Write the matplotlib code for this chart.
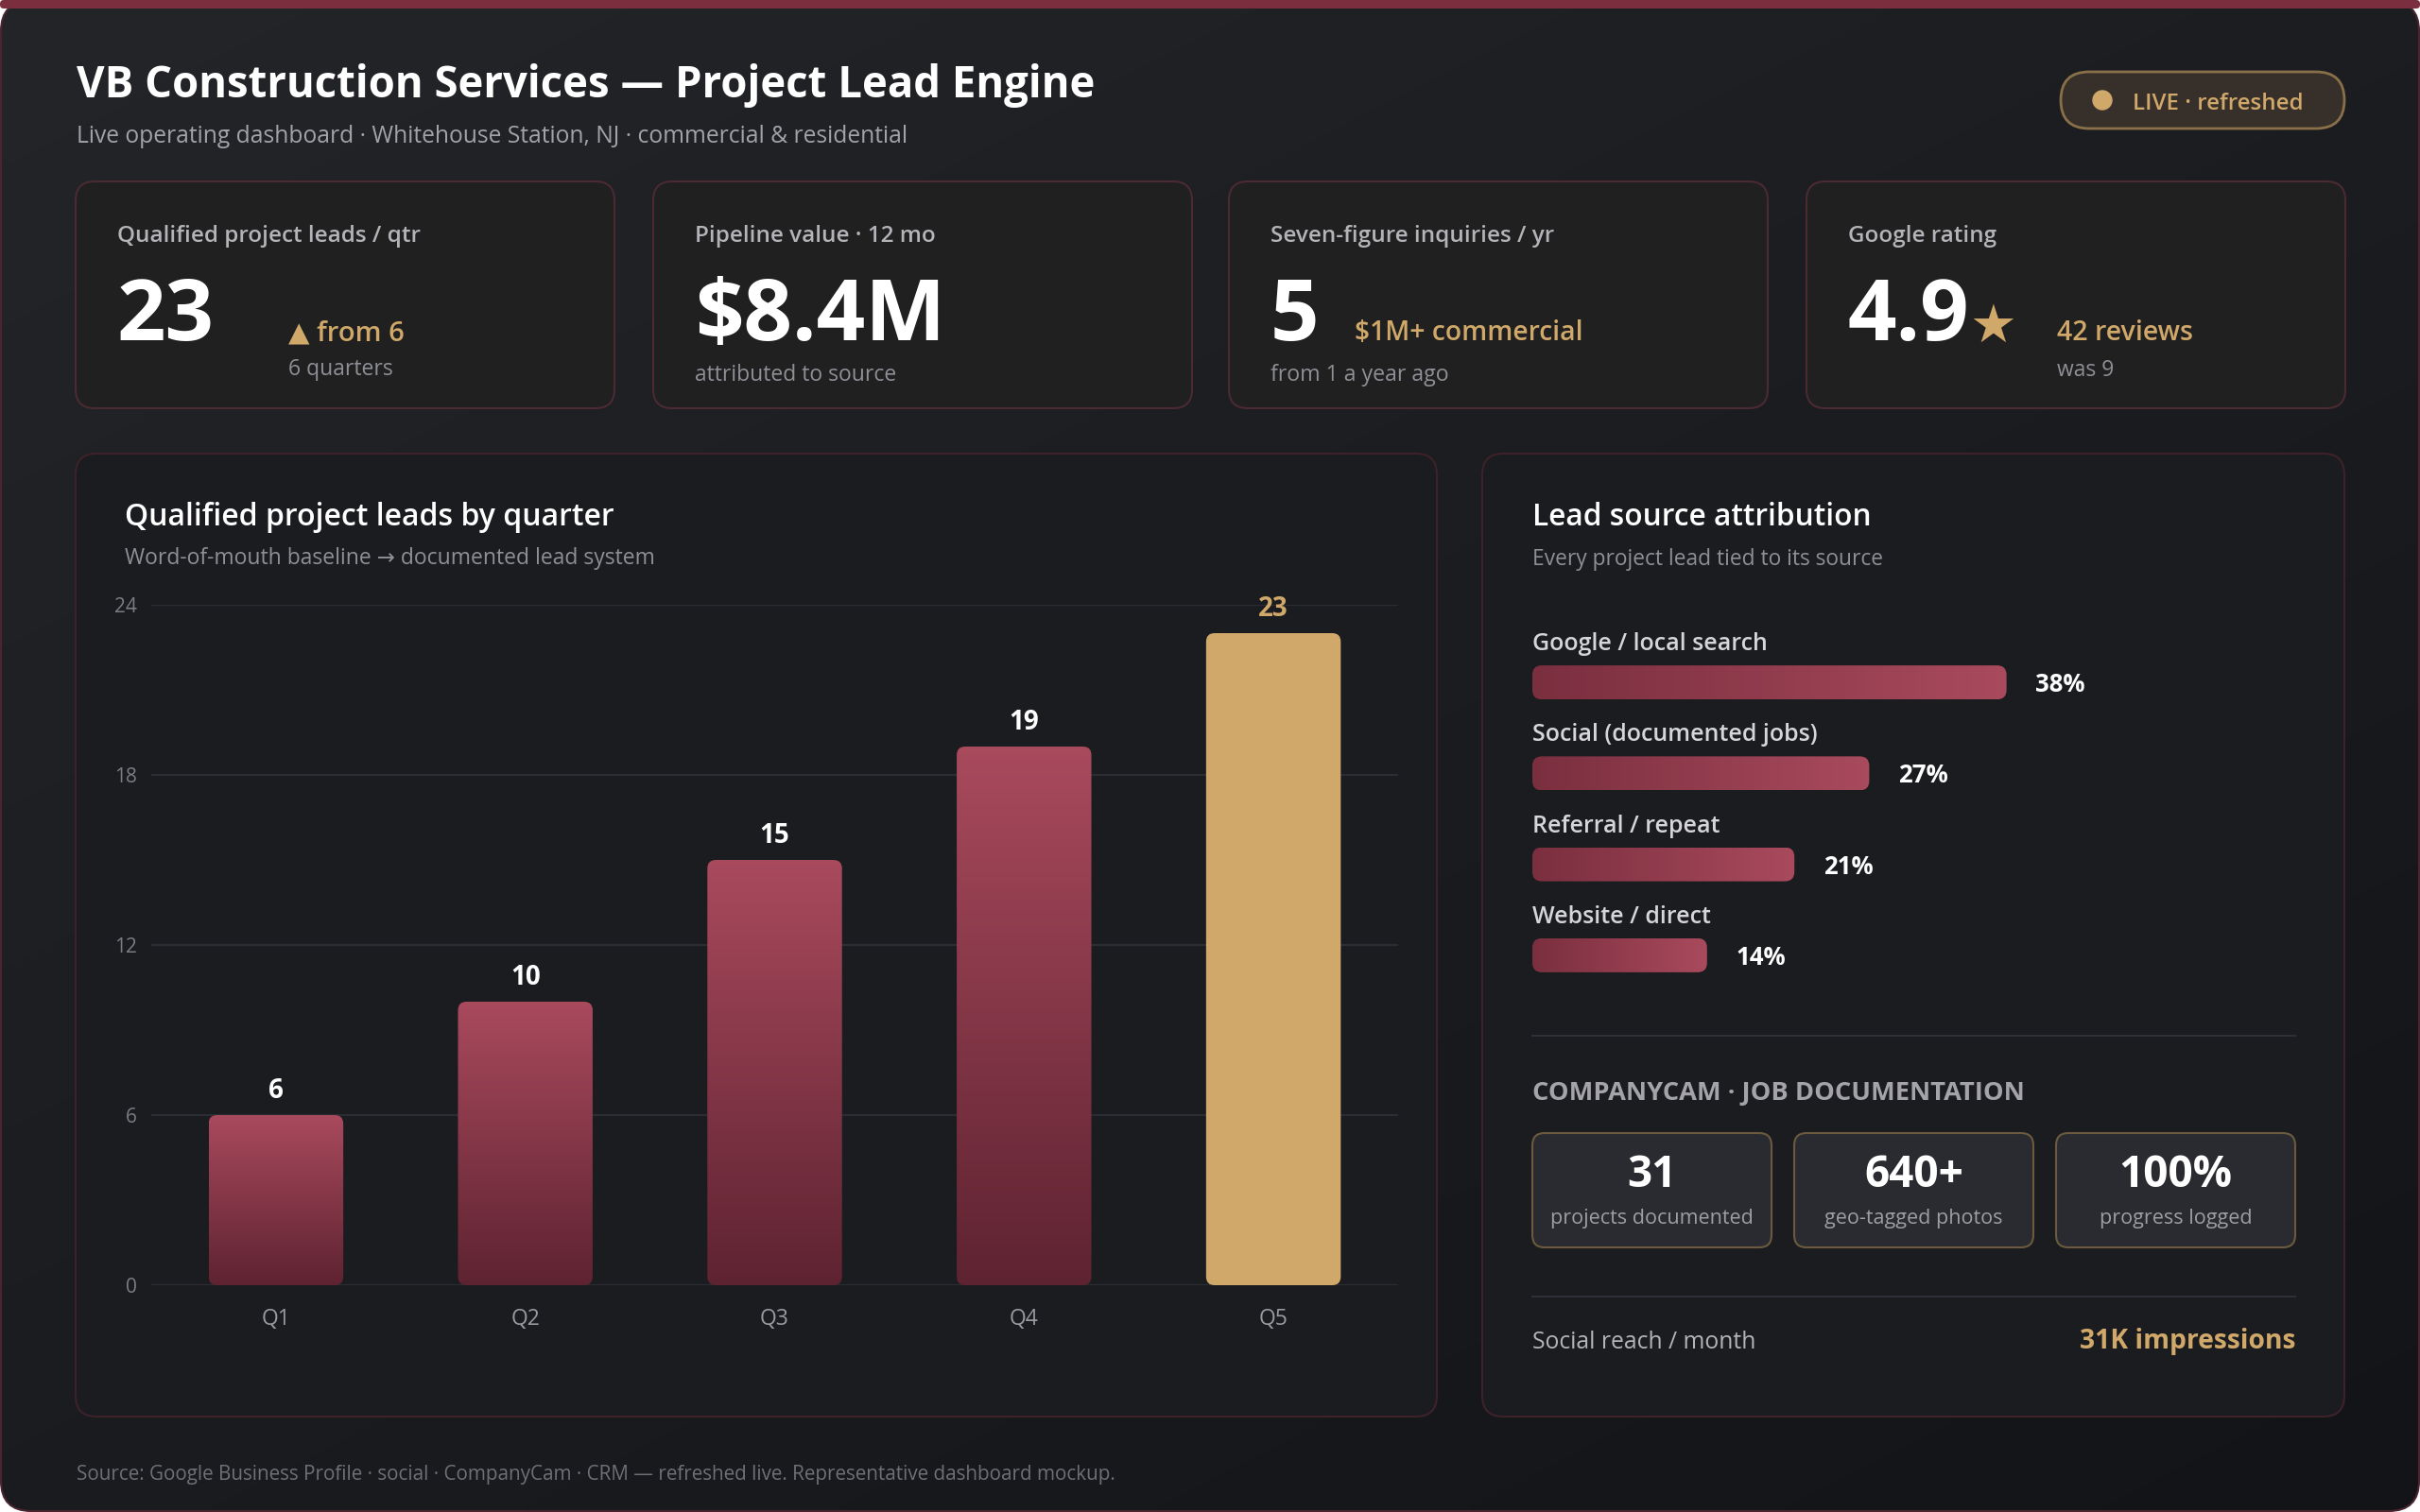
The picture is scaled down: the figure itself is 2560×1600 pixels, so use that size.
import numpy as np
import matplotlib
matplotlib.use('Agg')
import matplotlib.pyplot as plt
from matplotlib.patches import FancyBboxPatch, Circle
from matplotlib.colors import to_rgb

FONT = ['Open Sans', 'DejaVu Sans']
plt.rcParams['font.family'] = FONT

W, H = 2560, 1600

# ---------------- data ----------------
quarters = ['Q1', 'Q2', 'Q3', 'Q4', 'Q5']
leads = [6, 10, 15, 19, 23]
y_ticks = [0, 6, 12, 18, 24]

sources = ['Google / local search', 'Social (documented jobs)', 'Referral / repeat', 'Website / direct']
shares = [38, 27, 21, 14]

kpi_labels = ['Qualified project leads / qtr', 'Pipeline value · 12 mo',
              'Seven-figure inquiries / yr', 'Google rating']
kpi_values = ['23', '$8.4M', '5', '4.9']
kpi_notes = ['▲ from 6', '', '$1M+ commercial', '42 reviews']
kpi_subs = ['6 quarters', 'attributed to source', 'from 1 a year ago', 'was 9']

doc_values = ['31', '640+', '100%']
doc_labels = ['projects documented', 'geo-tagged photos', 'progress logged']

title = 'VB Construction Services — Project Lead Engine'
subtitle = 'Live operating dashboard · Whitehouse Station, NJ · commercial & residential'
footer = 'Source: Google Business Profile · social · CompanyCam · CRM — refreshed live. Representative dashboard mockup.'

# ---------------- colours ----------------
GOLD = '#d0a86a'
BAR_TOP = '#a94a5d'
BAR_BOT = '#5e2331'
HB_LEFT = '#7a2f3f'
HB_RIGHT = '#a94a5d'
WHITE = '#ffffff'
GRAY1 = '#b3b3b8'
GRAY2 = '#8f9096'
GRAY3 = '#6f7077'

fig = plt.figure(figsize=(W / 100, H / 100), dpi=100, facecolor='white')
renderer = fig.canvas.get_renderer()

bg = fig.add_axes([0, 0, 1, 1], zorder=0)
bg.set_xlim(0, W)
bg.set_ylim(H, 0)
bg.axis('off')


def rbox(x0, y0, x1, y1, r, fc, ec='none', lw=0, z=1):
    p = FancyBboxPatch((x0, y0), x1 - x0, y1 - y0,
                       boxstyle=f'round,pad=0,rounding_size={r}',
                       facecolor=fc, edgecolor=ec, linewidth=lw, zorder=z)
    bg.add_patch(p)
    return p


def T(x, y, s, size, color, weight='normal', ha='left', va='baseline', w=None, family=None, z=5):
    t = bg.text(x, y, s, fontsize=size, color=color, fontweight=weight, ha=ha, va=va,
                family=family or FONT, zorder=z)
    if w:
        bb = t.get_window_extent(renderer)
        if bb.width > 0:
            t.set_fontsize(size * w / bb.width)
    return t


# ---------------- page frame ----------------
frame = rbox(1, 1, W - 1, H - 1, 32, 'none', '#4a2530', 1.5, z=1)
gx = np.linspace(0, 1, 256)
gy = np.linspace(0, 1, 160)
GX, GY = np.meshgrid(gx, gy)
tt = (0.45 * GX + 0.55 * GY)
c0 = np.array(to_rgb('#242529'))
c1 = np.array(to_rgb('#131417'))
img = c0[None, None, :] * (1 - tt[..., None]) + c1[None, None, :] * tt[..., None]
im = bg.imshow(img, extent=(0, W, H, 0), aspect='auto', zorder=0.5, interpolation='bilinear')
im.set_clip_path(frame)
rbox(0, 0, W, 9, 4, '#7a2e3e', z=3)

# ---------------- header ----------------
T(81, 103, title, 33, WHITE, 'bold', w=1079)
T(81, 151, subtitle, 18, '#a2a2a9', w=881)

rbox(2180, 76, 2480, 136, 30, '#37302a', '#8a7049', 2, z=2)
bg.add_patch(Circle((2224, 106), 10, color=GOLD, zorder=4))
T(2256, 116, 'LIVE · refreshed', 19, GOLD, 'semibold', w=181)

# ---------------- KPI cards ----------------
card_x = [80, 691, 1300, 1911]
for i, x0 in enumerate(card_x):
    rbox(x0, 192, x0 + 570, 432, 20, '#202021', '#4b2a32', 1.5, z=2)
    T(x0 + 44, 256, kpi_labels[i], 17.5, GRAY1, 'semibold')
    T(x0 + 44, 360, kpi_values[i], 65, WHITE, 'bold')

# card 1
T(305, 360, kpi_notes[0], 21, GOLD, 'semibold', w=123)
T(305, 397, kpi_subs[0], 16.5, GRAY2)
# card 2
T(691 + 44, 403, kpi_subs[1], 16.5, GRAY2)
# card 3
T(1433, 360, kpi_notes[2], 21, GOLD, 'semibold', w=241)
T(1300 + 44, 403, kpi_subs[2], 16.7, GRAY2)
# card 4
T(2083, 362, '★', 40, GOLD, family=['DejaVu Sans'])
T(2176, 360, kpi_notes[3], 21, GOLD, 'semibold', w=144)
T(2176, 398, kpi_subs[3], 16.5, GRAY2)

# ---------------- panels ----------------
rbox(80, 480, 1520, 1499, 22, '#1b1c20', '#3d2229', 1.5, z=2)
rbox(1568, 480, 2480, 1499, 22, '#1b1c20', '#3d2229', 1.5, z=2)

T(132, 556, 'Qualified project leads by quarter', 23, WHITE, 'semibold', w=518)
T(132, 597, 'Word-of-mouth baseline → documented lead system', 16.5, GRAY2, w=560)

T(1621, 556, 'Lead source attribution', 23, WHITE, 'semibold', w=358)
T(1621, 598, 'Every project lead tied to its source', 16.5, GRAY2, w=371)

# ---------------- bar chart ----------------
ax = fig.add_axes([160 / W, 1 - 1360 / H, 1319 / W, 720 / H], zorder=3)
ax.set_facecolor('none')
xpos = np.arange(len(quarters))
bars = ax.bar(xpos, leads, width=0.54, color='none', edgecolor='none')
ax.set_xlim(-0.5, len(quarters) - 0.5)
ax.set_ylim(0, 24)
xupp = len(quarters) / 1319
yupp = 24 / 720
asp = yupp / xupp
grad_v = np.linspace(0, 1, 200)[:, None]
ct = np.array(to_rgb(BAR_TOP))
cb = np.array(to_rgb(BAR_BOT))
vimg = ct[None, None, :] * (1 - grad_v[..., None]) + cb[None, None, :] * grad_v[..., None]
for i, b in enumerate(bars):
    x0, w, h = b.get_x(), b.get_width(), b.get_height()
    last = (i == len(bars) - 1)
    p = FancyBboxPatch((x0, 0), w, h, boxstyle=f'round,pad=0,rounding_size={9 * xupp}',
                       mutation_aspect=asp, facecolor=GOLD if last else 'none',
                       edgecolor='none', zorder=2)
    ax.add_patch(p)
    if not last:
        gi = ax.imshow(vimg, extent=(x0, x0 + w, 0, h), aspect='auto', zorder=2,
                       interpolation='bilinear')
        gi.set_clip_path(p)
    ax.annotate(str(leads[i]), xy=(xpos[i], leads[i]), xytext=(0, 13), textcoords='offset points',
                ha='center', va='baseline', fontsize=20, fontweight='bold',
                color=GOLD if last else WHITE, zorder=5)
ax.set_xlim(-0.5, len(quarters) - 0.5)
ax.set_ylim(0, 24)
ax.set_yticks(y_ticks)
ax.set_xticks(xpos)
ax.set_xticklabels(quarters)
ax.yaxis.grid(True, color='#2c2d33', linewidth=1.6)
ax.set_axisbelow(True)
for s in ax.spines.values():
    s.set_visible(False)
ax.tick_params(axis='y', length=0, pad=11, labelcolor='#7c7d84', labelsize=15)
ax.tick_params(axis='x', length=0, pad=17, labelcolor='#9a9ba1', labelsize=16.5)

# ---------------- lead source bars ----------------
axh = fig.add_axes([1621 / W, 1 - 1059 / H, 807 / W, 385 / H], zorder=3)
axh.set_facecolor('none')
axh.axis('off')
rows = np.arange(len(sources))
hb = axh.barh(rows, shares, height=0.374, color='none', edgecolor='none')
XMAX = 807 / 13.2
axh.set_xlim(0, XMAX)
axh.set_ylim(len(sources) - 0.5, -0.5)
hx = XMAX / 807
hy = len(sources) / 385
hasp = hy / hx
grad_h = np.linspace(0, 1, 200)[None, :]
cl = np.array(to_rgb(HB_LEFT))
cr = np.array(to_rgb(HB_RIGHT))
himg = cl[None, None, :] * (1 - grad_h[..., None]) + cr[None, None, :] * grad_h[..., None]
for i, b in enumerate(hb):
    y0, hh, ww = b.get_y(), b.get_height(), b.get_width()
    p = FancyBboxPatch((0, y0), ww, hh, boxstyle=f'round,pad=0,rounding_size={10 * hx}',
                       mutation_aspect=hasp, facecolor='none', edgecolor='none', zorder=2)
    axh.add_patch(p)
    gi = axh.imshow(himg, extent=(0, ww, y0 + hh, y0), aspect='auto', zorder=2,
                    interpolation='bilinear')
    gi.set_clip_path(p)
    axh.annotate(sources[i], xy=(0, rows[i]), xytext=(0, 24.5), textcoords='offset points',
                 ha='left', va='baseline', fontsize=18, fontweight='semibold', color='#d6d6da',
                 annotation_clip=False)
    axh.annotate(f'{shares[i]}%', xy=(shares[i], rows[i]), xytext=(22, -7.2),
                 textcoords='offset points', ha='left', va='baseline', fontsize=18.5,
                 fontweight='bold', color=WHITE, annotation_clip=False)
axh.set_xlim(0, XMAX)
axh.set_ylim(len(sources) - 0.5, -0.5)

# ---------------- CompanyCam section ----------------
bg.plot([1621, 2428], [1096, 1096], color='#2f3037', lw=1.5, zorder=3)
T(1621, 1164, 'COMPANYCAM · JOB DOCUMENTATION', 17, '#a3a3a9', 'bold', w=521)
box_x = [1621, 1898, 2175]
for i, x0 in enumerate(box_x):
    rbox(x0, 1199, x0 + 253, 1320, 13, '#2a2b30', '#6b5a3f', 1.5, z=3)
    T(x0 + 126.5, 1256, doc_values[i], 33, WHITE, 'bold', ha='center')
    T(x0 + 126.5, 1295, doc_labels[i], 15.5, '#9d9ea4', ha='center')
bg.plot([1621, 2428], [1372, 1372], color='#2f3037', lw=1.5, zorder=3)
T(1621, 1427, 'Social reach / month', 18, GRAY1, w=236)
T(2428, 1427, '31K impressions', 21, GOLD, 'bold', ha='right', w=228)

# ---------------- footer ----------------
T(81, 1566, footer, 14, GRAY3, w=1107)

fig.savefig('out.png', dpi=100, facecolor='white')
